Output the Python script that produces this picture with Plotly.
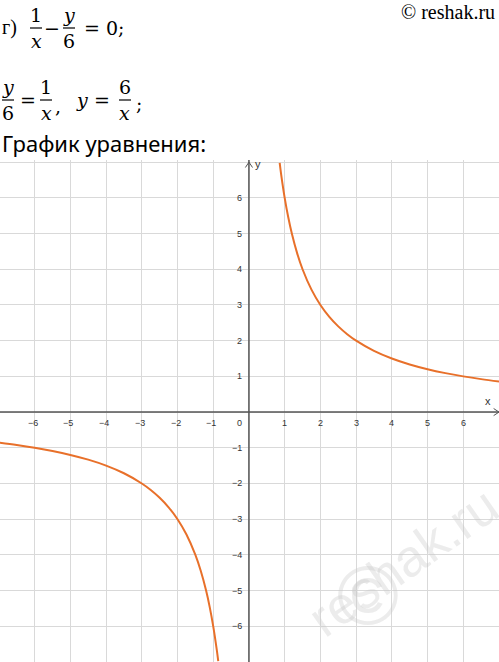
import plotly.graph_objects as go

# data: y = 6/x
x_pos = [0.86, 0.9, 1.0, 1.1, 1.2, 1.35, 1.5, 1.75, 2.0, 2.25, 2.5, 2.75, 3.0, 3.5, 4.0, 4.5, 5.0, 5.5, 6.0, 6.5, 7.0]
y_pos = [6.977, 6.667, 6.0, 5.455, 5.0, 4.444, 4.0, 3.429, 3.0, 2.667, 2.4, 2.182, 2.0, 1.714, 1.5, 1.333, 1.2, 1.091, 1.0, 0.923, 0.857]
x_neg = [-v for v in x_pos]
y_neg = [-v for v in y_pos]
x_ticks = [-6, -5, -4, -3, -2, -1, 1, 2, 3, 4, 5, 6]
y_ticks = [-6, -5, -4, -3, -2, -1, 1, 2, 3, 4, 5, 6]

XR = [-6.97, 7.0]
YR = [-7.0, 7.06]
W, H = 499, 662
top_plot = 160
dom_top = (H - top_plot) / H

fig = go.Figure()
col = "#E8702A"
fig.add_trace(go.Scatter(x=x_pos, y=y_pos, mode="lines", line=dict(color=col, width=2, shape="spline"), hoverinfo="skip"))
fig.add_trace(go.Scatter(x=x_neg, y=y_neg, mode="lines", line=dict(color=col, width=2, shape="spline"), hoverinfo="skip"))

ax = dict(showgrid=True, gridcolor="#d9d9d9", gridwidth=1, zeroline=False, showticklabels=False,
          ticks="", dtick=1, tick0=0, fixedrange=True)
fig.update_layout(
    width=W, height=H, margin=dict(l=0, r=0, t=0, b=0, autoexpand=False),
    paper_bgcolor="white", plot_bgcolor="white", showlegend=False,
    xaxis=dict(ax, range=XR, domain=[0, 1]),
    yaxis=dict(ax, range=YR, domain=[0, dom_top]),
)
ac = "#555555"
fig.add_shape(type="line", x0=XR[0], x1=XR[1], y0=0, y1=0, line=dict(color=ac, width=1.5))
fig.add_shape(type="line", x0=0, x1=0, y0=YR[0], y1=YR[1], line=dict(color=ac, width=1.5))
fig.add_shape(type="path", path="M -0.1 6.85 L 0 7.0 L 0.1 6.85", line=dict(color=ac, width=1))
fig.add_shape(type="path", path="M 6.85 0.1 L 7.0 0 L 6.85 -0.1", line=dict(color=ac, width=1))

tf = dict(family="Arial", size=9, color="#333")
for t in x_ticks:
    fig.add_annotation(x=t, y=0, text=("−" + str(-t)) if t < 0 else str(t), showarrow=False,
                       font=tf, yshift=-11, xshift=-2 if t < 0 else 0)
for t in y_ticks:
    fig.add_annotation(x=0, y=t, text=("−" + str(-t)) if t < 0 else str(t), showarrow=False,
                       font=tf, xanchor="right", xshift=-5)
fig.add_annotation(x=0, y=0, text="0", showarrow=False, font=tf, xanchor="right", xshift=-5, yshift=-11)
fig.add_annotation(x=6.7, y=0.1, text="x", showarrow=False, font=dict(family="Arial", size=11, color="#333"), yanchor="bottom")
fig.add_annotation(x=0.12, y=6.95, text="y", showarrow=False, font=dict(family="Arial", size=11, color="#333"), xanchor="left")

def txt(px, py, s, size=19, fam="DejaVu Serif", anchor="left", italic=False):
    if italic:
        s = "<i>" + s + "</i>"
    fig.add_annotation(xref="paper", yref="paper", x=px / W, y=1 - py / H, text=s, showarrow=False,
                       xanchor=anchor, yanchor="middle", font=dict(family=fam, size=size, color="black"))

def frac(cx, cy, num, den, ni=False, di=False):
    txt(cx, cy - 13, num, anchor="center", italic=ni, size=19)
    txt(cx, cy + 13, den, anchor="center", italic=di, size=19)
    fig.add_shape(type="line", xref="paper", yref="paper", x0=(cx - 6) / W, x1=(cx + 6) / W,
                  y0=1 - cy / H, y1=1 - cy / H, line=dict(color="black", width=1.2))

serif = "Liberation Serif"
txt(0, 28, "г)", size=20, fam=serif)
frac(36, 28, "1", "x", di=True)
txt(52, 28, "−", anchor="center")
frac(69, 28, "y", "6", ni=True)
txt(82, 28, "= 0;", size=19)
frac(8, 100, "y", "6", ni=True)
txt(28, 100, "=", anchor="center")
frac(46, 100, "1", "x", di=True)
txt(58, 106, ",", anchor="center")
txt(82, 100, "y", anchor="center", italic=True)
txt(102, 100, "=", anchor="center")
frac(125, 100, "6", "x", di=True)
txt(139, 104, ";", anchor="center")
txt(0, 143, "График уравнения:", size=22, fam="Noto Sans")
txt(497, 12, "© reshak.ru", size=20, fam=serif, anchor="right")

fig.add_annotation(xref="paper", yref="paper", x=403 / W, y=1 - 562 / H, text="reshak.ru", showarrow=False,
                   xanchor="center", yanchor="middle",
                   textangle=-35, font=dict(family="Arial", size=52, color="rgba(200,200,200,0.35)"))
fig.add_annotation(xref="paper", yref="paper", x=368 / W, y=1 - 595 / H, text="©", showarrow=False,
                   xanchor="center", yanchor="middle",
                   font=dict(family="Arial", size=84, color="rgba(200,200,200,0.35)"))

fig.write_html("out.html", config={"displayModeBar": False},
               post_script="document.body.style.margin='0';document.body.style.overflow='hidden';")
